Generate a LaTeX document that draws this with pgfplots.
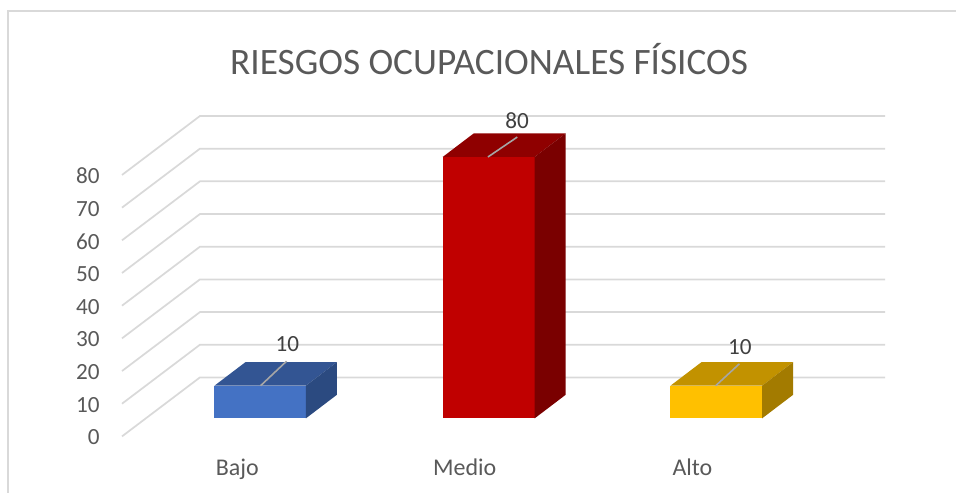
\documentclass[border=0pt]{standalone}
\usepackage{pgfplots}
\pgfplotsset{compat=1.18}
\usepackage{fontspec}
\setmainfont{Carlito}
\definecolor{gridc}{HTML}{D9D9D9}
\definecolor{txt}{HTML}{595959}
\definecolor{lab}{HTML}{404040}
\definecolor{lead}{HTML}{A6A6A6}
\definecolor{bF}{HTML}{4472C4}\definecolor{bT}{HTML}{335593}\definecolor{bS}{HTML}{2B4A80}
\definecolor{rF}{HTML}{C00000}\definecolor{rT}{HTML}{8F0000}\definecolor{rS}{HTML}{7A0000}
\definecolor{yF}{HTML}{FFC000}\definecolor{yT}{HTML}{C29200}\definecolor{yS}{HTML}{A37B00}
\begin{document}
\begin{tikzpicture}
\begin{axis}[
  scale only axis, width=717.75pt, height=369.75pt,
  xmin=0, xmax=957, ymin=-17.21, ymax=133.5,
  axis line style={draw=none},
  major tick length=0pt, clip=false,
  ytick={0,10,20,30,40,50,60,70,80},
  /pgf/number format/assume math mode=true,
  yticklabel style={font=\fontsize{17.4pt}{19pt}\selectfont, color=txt, xshift=78.2pt, yshift=-0.8pt},
  xtick={237.5,465,693},
  xticklabels={Bajo,Medio,Alto},
  xticklabel style={font=\fontsize{18pt}{20pt}\selectfont, color=txt, anchor=base, yshift=13pt},
  title={RIESGOS OCUPACIONALES FÍSICOS},
  title style={at={(0.5115,0.864)}, anchor=center, font=\fontsize{28pt}{32pt}\selectfont, color=txt},
]
% chart frame
\addplot[gridc, line width=1.3pt, mark=none] coordinates {(8,-17.21) (8,130.1) (957,130.1)};
% wall gridlines, one polyline per value
\addplot[gridc, line width=1.3pt, mark=none] coordinates {(122,0) (200,18.04) (886,18.04)};
\addplot[gridc, line width=1.3pt, mark=none] coordinates {(122,10) (200,28.04) (886,28.04)};
\addplot[gridc, line width=1.3pt, mark=none] coordinates {(122,20) (200,38.04) (886,38.04)};
\addplot[gridc, line width=1.3pt, mark=none] coordinates {(122,30) (200,48.04) (886,48.04)};
\addplot[gridc, line width=1.3pt, mark=none] coordinates {(122,40) (200,58.04) (886,58.04)};
\addplot[gridc, line width=1.3pt, mark=none] coordinates {(122,50) (200,68.04) (886,68.04)};
\addplot[gridc, line width=1.3pt, mark=none] coordinates {(122,60) (200,78.04) (886,78.04)};
\addplot[gridc, line width=1.3pt, mark=none] coordinates {(122,70) (200,88.04) (886,88.04)};
\addplot[gridc, line width=1.3pt, mark=none] coordinates {(122,80) (200,98.04) (886,98.04)};
% Bajo = 10
\addplot[draw=none, fill=bF, mark=none] coordinates {(214.5,5.5) (306,5.5) (306,15.5) (214.5,15.5)} -- cycle;
\addplot[draw=none, fill=bT, mark=none] coordinates {(214.5,15.5) (306,15.5) (337,22.7) (245.5,22.7)} -- cycle;
\addplot[draw=none, fill=bS, mark=none] coordinates {(306,5.5) (337,12.7) (337,22.7) (306,15.5)} -- cycle;
% Medio = 80
\addplot[draw=none, fill=rF, mark=none] coordinates {(443,5.5) (535,5.5) (535,85.5) (443,85.5)} -- cycle;
\addplot[draw=none, fill=rT, mark=none] coordinates {(443,85.5) (535,85.5) (566,92.7) (474,92.7)} -- cycle;
\addplot[draw=none, fill=rS, mark=none] coordinates {(535,5.5) (566,12.7) (566,92.7) (535,85.5)} -- cycle;
% Alto = 10
\addplot[draw=none, fill=yF, mark=none] coordinates {(671,5.5) (762.7,5.5) (762.7,15.5) (671,15.5)} -- cycle;
\addplot[draw=none, fill=yT, mark=none] coordinates {(671,15.5) (762.7,15.5) (793.7,22.7) (702,22.7)} -- cycle;
\addplot[draw=none, fill=yS, mark=none] coordinates {(762.7,5.5) (793.7,12.7) (793.7,22.7) (762.7,15.5)} -- cycle;
% leader lines
\addplot[lead, line width=1.2pt, mark=none] coordinates {(260.7,15.5) (286.7,23)};
\addplot[lead, line width=1.2pt, mark=none] coordinates {(488.3,85.5) (517.7,91.6)};
\addplot[lead, line width=1.2pt, mark=none] coordinates {(716.3,15.5) (740,22.2)};
% data labels
\addplot[draw=none, mark=none, nodes near coords, point meta=explicit,
  nodes near coords style={anchor=center, color=lab, font=\fontsize{17.4pt}{19pt}\selectfont, /pgf/number format/assume math mode=true}]
  coordinates {(287.5,28.4) [10] (517.5,96.6) [80] (740.5,27.2) [10]};
\end{axis}
\end{tikzpicture}
\end{document}
